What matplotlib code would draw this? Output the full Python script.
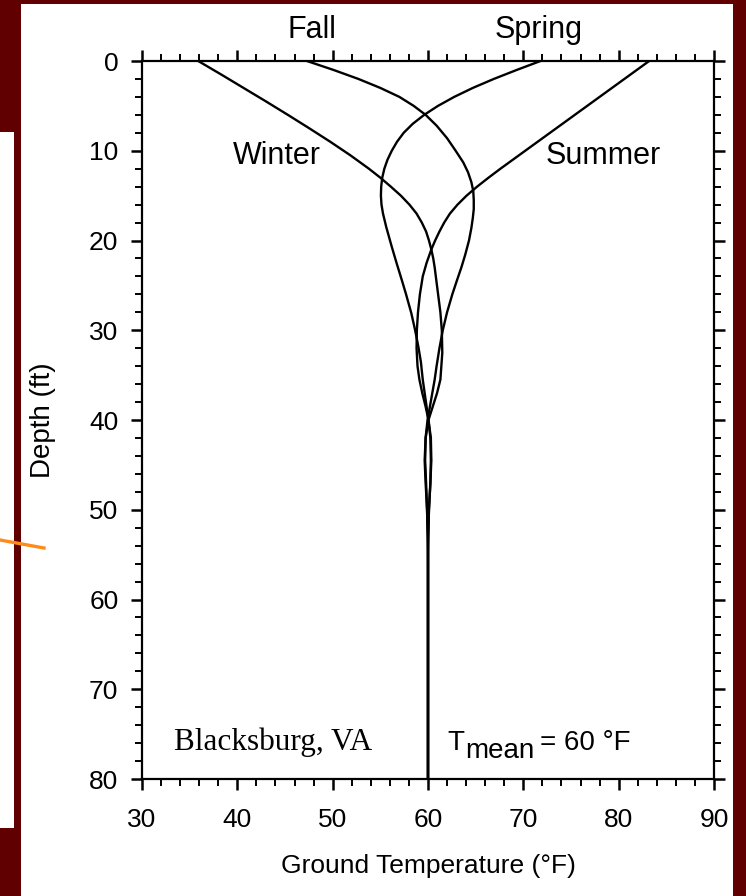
import numpy as np
import matplotlib
matplotlib.use("Agg")
import matplotlib.pyplot as plt
from matplotlib.patches import Rectangle
from matplotlib.lines import Line2D
from matplotlib.ticker import MultipleLocator

plt.rcParams["font.family"] = ["Liberation Sans", "DejaVu Sans"]

MAROON = "#600000"; ORANGE = "#ff8c1a"

# depth profiles (ft), temperature in deg F
winter_d = [0, 1.5, 3.0, 4.5, 6.0, 7.5, 9.0, 10.5, 12.0, 13.0, 14.0, 15.0, 16.0, 17.0, 18.0, 19.0, 20.0, 21.0,
            22.0, 23.0, 25.5, 28.0, 30.0, 32.5, 35.5, 37.0, 38.5, 40.0, 42.0, 44.5, 47.0, 50.0, 53.0, 56.0, 80]
winter_t = [35.9, 38.3, 40.65, 43.0, 45.3, 47.55, 49.75, 51.85, 53.8, 55.0, 56.1, 57.15, 58.05, 58.8, 59.35, 59.8, 60.1, 60.35,
            60.55, 60.7, 61.0, 61.3, 61.45, 61.5, 61.3, 60.95, 60.5, 60.05, 59.75, 59.7, 59.8, 59.9, 59.97, 60.0, 60.0]

fall_d = [0, 1.0, 2.0, 3.0, 4.0, 5.0, 6.0, 7.2, 8.6, 10.0, 11.3, 12.4, 13.5, 14.5, 15.5, 16.5, 17.5,
          18.6, 20.0, 21.6, 23.0, 24.4, 26.0, 28.0, 30.0, 32.0, 34.0, 35.5, 37.0, 38.5, 40.0, 42.0, 44.5, 47.0,
          50.0, 53.0, 56.0, 80]
fall_t = [47.3, 50.1, 52.7, 55.0, 57.0, 58.5, 59.75, 60.9, 62.0, 62.9, 63.7, 64.2, 64.55, 64.75, 64.8, 64.8, 64.7,
          64.55, 64.3, 63.9, 63.5, 63.05, 62.55, 62.0, 61.55, 61.2, 60.9, 60.7, 60.45, 60.2, 59.95, 59.75, 59.65, 59.75,
          59.9, 59.97, 60.0, 60.0]

spring_d = [0, 1.0, 2.0, 3.0, 4.0, 5.0, 6.0, 7.0, 8.0, 9.0, 10.0, 11.0, 12.0, 13.0, 14.0, 15.0, 16.0, 17.0,
            18.5, 20.7, 22.5, 24.4, 26.0, 28.1, 30.0, 31.9, 33.5, 35.5, 37.0, 38.5, 40.0, 42.0, 44.5, 47.0,
            50.0, 53.0, 56.0, 80]
spring_t = [71.8, 69.3, 66.9, 64.7, 62.75, 61.05, 59.6, 58.4, 57.45, 56.75, 56.2, 55.75, 55.42, 55.2, 55.09, 55.06, 55.12, 55.28,
            55.62, 56.2, 56.7, 57.25, 57.7, 58.25, 58.65, 59.0, 59.25, 59.45, 59.65, 59.85, 60.05, 60.25, 60.3, 60.25,
            60.1, 60.03, 60.0, 60.0]

summer_d = [0, 2.0, 4.0, 6.0, 8.0, 10.0, 12.0, 13.0, 14.0, 15.0, 16.0, 17.0, 18.0, 19.0, 20.0, 21.0,
            22.5, 24.0, 26.0, 28.0, 30.0, 32.0, 34.0, 35.5, 37.0, 38.5, 40.0, 42.0, 44.5, 47.0, 50.0, 53.0, 56.0, 80]
summer_t = [83.2, 80.6, 78.0, 75.4, 72.8, 70.2, 67.6, 66.35, 65.15, 64.05, 63.1, 62.3, 61.7, 61.2, 60.75, 60.35,
            59.85, 59.45, 59.15, 58.95, 58.83, 58.8, 58.9, 59.1, 59.4, 59.75, 60.05, 60.3, 60.35, 60.25,
            60.1, 60.03, 60.0, 60.0]

fig = plt.figure(figsize=(7.46, 8.96), dpi=100, facecolor=MAROON)
# slide background pieces
fig.patches.append(Rectangle((21 / 746, 0), (733 - 21) / 746, 1 - 4 / 896, transform=fig.transFigure,
                             facecolor="white", edgecolor="none", zorder=-5))
fig.patches.append(Rectangle((0, 1 - 828 / 896), 14 / 746, (828 - 132) / 896, transform=fig.transFigure,
                             facecolor="white", edgecolor="none", zorder=-5))
fig.lines.append(Line2D([0, 44 / 746], [1 - 540 / 896, 1 - 548 / 896], transform=fig.transFigure,
                        color=ORANGE, lw=2.4, zorder=-4))

ax = fig.add_axes([142 / 746, 1 - 779 / 896, (714 - 142) / 746, (779 - 61) / 896])
ax.set_facecolor("white")
for d, t in [(winter_d, winter_t), (fall_d, fall_t), (spring_d, spring_t), (summer_d, summer_t)]:
    ax.plot(t, d, color="k", lw=1.7, solid_joinstyle="round")

ax.set_xlim(30, 90); ax.set_ylim(80, 0)
ax.xaxis.set_major_locator(MultipleLocator(10)); ax.xaxis.set_minor_locator(MultipleLocator(2))
ax.yaxis.set_major_locator(MultipleLocator(10)); ax.yaxis.set_minor_locator(MultipleLocator(2))
ax.tick_params(which="both", direction="out", top=True, right=True, labelsize=19)
ax.tick_params(which="major", length=8, width=1.8)
ax.tick_params(which="minor", length=5, width=1.4)
ax.tick_params(axis="y", pad=9)
ax.tick_params(axis="x", pad=13)
for s in ax.spines.values():
    s.set_linewidth(1.6)

ax.set_xlabel("Ground Temperature (°F)", fontsize=19, labelpad=16)
ax.set_ylabel("Depth (ft)", fontsize=20, labelpad=24)

ax.text(47.8, -2.6, "Fall", ha="center", va="baseline", fontsize=22, clip_on=False)
ax.text(71.6, -2.6, "Spring", ha="center", va="baseline", fontsize=22, clip_on=False)
ax.text(44.1, 11.5, "Winter", ha="center", va="baseline", fontsize=22)
ax.text(78.4, 11.5, "Summer", ha="center", va="baseline", fontsize=22)
ax.text(43.8, 76.8, "Blacksburg, VA", ha="center", va="baseline", fontsize=22.5,
        family="Liberation Serif")
ax.text(62.0, 76.8, "T", ha="left", va="baseline", fontsize=20)
ax.text(63.85, 77.7, "mean", ha="left", va="baseline", fontsize=20)
ax.text(71.75, 76.8, "= 60 °F", ha="left", va="baseline", fontsize=20)

fig.savefig("out.png", dpi=100, facecolor=MAROON)
